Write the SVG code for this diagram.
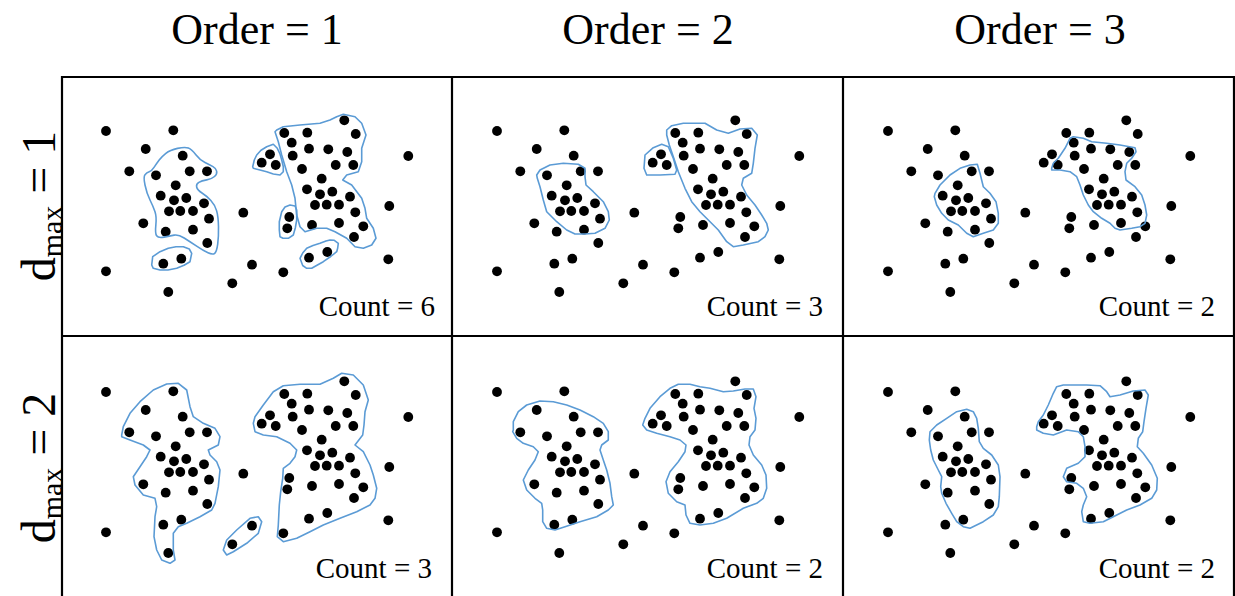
<svg xmlns="http://www.w3.org/2000/svg" xmlns:xlink="http://www.w3.org/1999/xlink" width="1235" height="596" viewBox="0 0 1235 596">
<style>
.c{fill:none;stroke:#5B9BD5;stroke-width:1.6;stroke-linejoin:round}
.g{stroke:#000;stroke-width:2.2;fill:none}
.h{font-family:"Liberation Serif",serif;font-size:44px;fill:#000}
.r{font-family:"Liberation Serif",serif;font-size:48px;fill:#000}
.n{font-family:"Liberation Serif",serif;font-size:29px;fill:#000}
#dots circle{r:4.9px}
</style>
<defs>
<g id="dots" fill="#000">
<circle cx="106" cy="131" r="4.9"/><circle cx="173.3" cy="130.3" r="4.9"/><circle cx="145.7" cy="149" r="4.9"/><circle cx="182.7" cy="155.7" r="4.9"/><circle cx="129.3" cy="171.3" r="4.9"/><circle cx="156" cy="175.3" r="4.9"/><circle cx="189.7" cy="171.3" r="4.9"/><circle cx="207" cy="171.3" r="4.9"/><circle cx="175.7" cy="185.3" r="4.9"/><circle cx="160.7" cy="195.7" r="4.9"/><circle cx="174" cy="200.3" r="4.9"/><circle cx="186.3" cy="198" r="4.9"/><circle cx="204" cy="203.3" r="4.9"/><circle cx="169" cy="211.3" r="4.9"/><circle cx="180.3" cy="211" r="4.9"/><circle cx="193" cy="211" r="4.9"/><circle cx="209" cy="218.7" r="4.9"/><circle cx="143.3" cy="223.3" r="4.9"/><circle cx="165.7" cy="231.7" r="4.9"/><circle cx="193" cy="229.7" r="4.9"/><circle cx="207.3" cy="243" r="4.9"/><circle cx="243.3" cy="212.7" r="4.9"/><circle cx="163.3" cy="263.7" r="4.9"/><circle cx="181.3" cy="258.7" r="4.9"/><circle cx="106" cy="271.3" r="4.9"/><circle cx="252" cy="264.7" r="4.9"/><circle cx="232.3" cy="283.3" r="4.9"/><circle cx="168.3" cy="292" r="4.9"/>
<circle cx="344.3" cy="120.3" r="4.9"/><circle cx="284.3" cy="133" r="4.9"/><circle cx="307.3" cy="132.7" r="4.9"/><circle cx="355.7" cy="134" r="4.9"/><circle cx="291.7" cy="142.7" r="4.9"/><circle cx="309" cy="148.7" r="4.9"/><circle cx="328.3" cy="149.3" r="4.9"/><circle cx="347.3" cy="152" r="4.9"/><circle cx="292.7" cy="155.7" r="4.9"/><circle cx="270" cy="154.3" r="4.9"/><circle cx="261.7" cy="162.7" r="4.9"/><circle cx="275.7" cy="165" r="4.9"/><circle cx="335.7" cy="165" r="4.9"/><circle cx="353.3" cy="165" r="4.9"/><circle cx="302" cy="169" r="4.9"/><circle cx="408.3" cy="156" r="4.9"/><circle cx="321.7" cy="178.7" r="4.9"/><circle cx="307" cy="189.3" r="4.9"/><circle cx="320" cy="194.3" r="4.9"/><circle cx="332.3" cy="191.7" r="4.9"/><circle cx="350" cy="196.7" r="4.9"/><circle cx="315" cy="205" r="4.9"/><circle cx="326.7" cy="204.7" r="4.9"/><circle cx="339" cy="204.7" r="4.9"/><circle cx="355.3" cy="212.3" r="4.9"/><circle cx="389.3" cy="206" r="4.9"/><circle cx="289.3" cy="217" r="4.9"/><circle cx="287.3" cy="228.3" r="4.9"/><circle cx="312" cy="225" r="4.9"/><circle cx="339" cy="223" r="4.9"/><circle cx="363.3" cy="226.3" r="4.9"/><circle cx="354" cy="237" r="4.9"/><circle cx="327.3" cy="252" r="4.9"/><circle cx="309" cy="257.7" r="4.9"/><circle cx="388.3" cy="259.3" r="4.9"/><circle cx="283.3" cy="272.3" r="4.9"/>
</g>
</defs>
<g id="headers">
<text class="h" x="257" y="44" text-anchor="middle">Order = 1</text>
<text class="h" x="648" y="44" text-anchor="middle">Order = 2</text>
<text class="h" x="1040" y="44" text-anchor="middle">Order = 3</text>
</g>
<g id="rowlabels">
<text class="r" transform="translate(55,206) rotate(-90)" text-anchor="middle">d<tspan font-size="30" dy="7">max</tspan><tspan dy="-7"> = 1</tspan></text>
<text class="r" transform="translate(55,468) rotate(-90)" text-anchor="middle">d<tspan font-size="30" dy="7">max</tspan><tspan dy="-7"> = 2</tspan></text>
</g>
<g id="grid" class="g">
<line x1="61" y1="77" x2="1235" y2="77"/>
<line x1="62" y1="76" x2="62" y2="596"/>
<line x1="61" y1="336" x2="1235" y2="336"/>
<line x1="452" y1="77" x2="452" y2="596"/>
<line x1="843" y1="77" x2="843" y2="596"/>
<line x1="1234" y1="77" x2="1234" y2="596"/>
</g>
<g id="panel-1-1">
<use xlink:href="#dots"/>
<path class="c" d="M165.85,153.35 Q170,150 177.5,148.35 Q185,146.7 188.35,148 Q191.7,149.3 195.85,154.65 Q200,160 205,162.5 Q210,165 213,166.65 Q216,168.3 216.65,171.15 Q217.3,174 214.5,176.5 Q211.7,179 206.7,179.85 Q201.7,180.7 198.85,182.35 Q196,184 196.65,187 Q197.3,190 202,193 Q206.7,196 210.85,200.5 Q215,205 216.65,210.85 Q218.3,216.7 218.5,226.7 Q218.7,236.7 217.7,244.2 Q216.7,251.7 214.7,253.35 Q212.7,255 208,252.85 Q203.3,250.7 196.65,246.2 Q190,241.7 184.15,238 Q178.3,234.3 174.15,235.15 Q170,236 164.15,237.15 Q158.3,238.3 156.65,235.8 Q155,233.3 155.85,225 Q156.7,216.7 155,211.7 Q153.3,206.7 150,200 Q146.7,193.3 145,185 Q143.3,176.7 145,174.7 Q146.7,172.7 149.2,171.85 Q151.7,171 154.2,167.15 Q156.7,163.3 159.2,160 Q161.7,156.7 165.85,153.35 Z"/>
<polygon class="c" points="151.7,265 152.7,256.7 160,251.7 168.3,248.3 176,246.7 183.3,246.7 189.3,249 191.7,253.3 190,261.7 184,265.3 176.7,268.3 168,270 160,270 153.3,268.3"/>
<polygon class="c" points="252.7,166.7 254.3,160 256.7,155 261,150.3 266.7,146.7 273.3,144.3 277.3,148.3 280,154 281.7,160 283.3,166.7 283.3,171.7 280,175 273.3,174 266.7,171.7 259,169.7 253.3,168.3"/>
<polygon class="c" points="281.7,211.7 285,207 290,205 295,206 296.7,210 296.7,220 295.3,228 293.3,235 288.3,238.3 283,238.3 280,236.7 279.3,230 279.3,221.7"/>
<polygon class="c" points="300,258.3 302.7,253 306.7,248.3 313,245.5 320,243.3 326,241 330,240 334.3,240.3 338.3,243.3 337.7,248 336.7,251.7 330.7,256.5 323.3,261.7 317,265.3 311.7,268.3 306.7,268.3 302.7,265.5"/>
<polygon class="c" points="276.7,130 283.3,126.7 300,125 320,123.3 330,120 336.7,116.7 343.3,114.3 355,116.7 361.7,123.3 366,135 361.7,148.3 361.7,161.7 358.3,171.7 346.7,175 342.7,180 351.7,185 361.7,198.3 365,208.3 366.7,218.3 373.3,228.3 376,238.3 371.7,245 363.3,248.3 355,246.7 346.7,238.3 335,231.7 326.7,228.3 316.7,228.3 305,231.7 300,226.7 296.7,215 295,198.3 291.7,185 286.7,171.7 281.7,155 278.3,141.7 275,131.7"/>
<text class="n" x="435" y="316" text-anchor="end">Count = 6</text>
</g>
<g id="panel-1-2">
<use xlink:href="#dots" x="391"/>
<g transform="translate(391,0)">
<polygon class="c" points="145.7,175 149,170 159,165 172.3,163.3 187.3,164.3 194,168.3 194,176.7 195,185 202.3,191.7 212.3,201.7 217.3,211.7 218.3,220 214,228.3 204,233.3 194,234 184,234 175.7,230 165.7,221.7 155.7,211.7 152.3,200 149,186.7 146.3,178.3"/>
<polygon class="c" points="253,168.3 254,155 262.3,147.7 270.7,144.3 277.3,146.7 282.3,158.3 285.7,170 284,174.3 269,175 255.7,175"/>
<polygon class="c" points="275.7,130 280.7,125.7 292.3,123.3 314,123.3 325.7,130 337.3,133.3 349,129 360.7,128.3 366.3,135 364,148.3 362.3,163.3 360.7,173.3 352.3,178.3 350.7,185 355.7,195 364,205 370.7,215 375.7,223.3 377.3,230 374,236.7 367.3,241.7 352.3,245 342.3,246.7 335.7,241.7 327.3,230 317.3,220 309,211.7 300.7,201.7 294,188.3 287.3,171.7 282.3,156.7 278.3,145 275.7,135"/>
</g>
<text class="n" x="823" y="316" text-anchor="end">Count = 3</text>
</g>
<g id="panel-1-3">
<use xlink:href="#dots" x="782"/>
<g transform="translate(782,0)">
<polygon class="c" points="153,193.3 158,185 168,175 178,168.3 188,165 195.3,164.3 198,173.3 201.3,186.7 208,193.3 214,201.7 216.3,213.3 216.3,223.3 211.3,230 201.3,233.3 191.3,236.7 184.7,233.3 176.3,225 166.3,220 159.7,213.3 154.7,205 152.3,196.7"/>
<polygon class="c" points="269.7,168.3 271.3,163.3 276.3,158.3 283,148.3 288,138.3 291.3,136.7 301.3,138.3 309.7,141.7 324.7,143.3 338,145 353,147.7 354,151.7 349.7,158.3 344.7,163.3 343,171.7 344,180 353,186.7 359.7,195 363,205 364.7,215 363,223.3 358,226.7 349.7,228.3 338,230 333,228.3 328,223.3 319.7,218.3 311.3,211.7 306.3,205 301.3,195 298,185 294.7,176.7 288,171.7 278,170 269.7,170"/>
</g>
<text class="n" x="1215" y="316" text-anchor="end">Count = 2</text>
</g>
<g id="panel-2-1">
<use xlink:href="#dots" y="261"/>
<g transform="translate(0,261)">
<polygon class="c" points="121.7,174 123.3,165.7 130,152.3 140,140.7 153.3,129 166.7,123 178.3,122.3 186.7,129 190,145.7 193.3,155.7 203.3,162.3 215,167.3 220,175.7 218.3,184 208.3,189 210,194 216.7,200.7 220,209 218.3,225.7 215,242.3 211.7,249 200,255.7 186.7,262.3 178.3,265.7 173.3,272.3 173.3,289 175,299 170,302.3 161.7,299 156.7,289 154,275.7 155,255.7 156.7,245.7 155,237.3 143.3,234 135,224 133.3,215.7 140,205.7 146.7,195.7 150,189 143.3,184 130,179 121.7,175.7"/>
<polygon class="c" points="223.3,289 226.7,279 236.7,269 250,257.3 258.3,255.7 261.7,260.7 258.3,272.3 246.7,282.3 233.3,290.7 226.7,294"/>
<polygon class="c" points="253.3,162.3 255,155.7 263.3,144 273.3,130.7 283.3,124.7 300,123.3 320,123.3 333.3,117.3 341.7,112.3 353.3,114 363.3,124 368.3,139 365,150.7 364,164 362.7,174 355,184 363.3,190.7 370,204 373.3,214 376.7,227.3 375,237.3 370,244 356.7,250.7 340,257.3 323.3,264 310,270.7 296.7,277.3 283.3,280.7 277.3,275.7 278.3,264 279.3,244 280.7,230.7 282.7,217.3 283.3,207.3 290,202.3 295,195.7 296.7,189 290,182.3 276.7,175.7 263.3,174 255,170.7"/>
</g>
<text class="n" x="432" y="578" text-anchor="end">Count = 3</text>
</g>
<g id="panel-2-2">
<use xlink:href="#dots" x="391" y="261"/>
<g transform="translate(391,261)">
<polygon class="c" points="122.3,169 122.3,160.7 127.3,150.7 135.7,144 149,140 162.3,140.7 175.7,144 189,149 202.3,155.7 212.3,162.3 217.3,170.7 217.3,179 210.7,184 209,189 212.3,199 215.7,209 219,222.3 220.7,235.7 222.3,244 217.3,249 205.7,255.7 189,260.7 174,265.7 164,269 155.7,267.3 151.7,260.7 151.7,249 150.7,242.3 144,237.3 135.7,229 132.3,219 137.3,209 144,199 147.3,190.7 142.3,185.7 132.3,182.3 125.7,177.3 121.7,170.7"/>
<polygon class="c" points="251.7,164 254,157.3 259,147.3 269,135.7 279,127.3 287.3,123.3 299,123.3 309,125.7 319,127.3 332.3,130.7 342.3,130 354,128 362.3,128 365,135.7 363,147.3 365,157.3 364,169 359,175.7 358,184 362.3,194 370.7,204 375,214 375.7,227.3 372.3,237.3 365.7,242.3 352.3,247.3 335.7,257.3 322.3,262.3 309,264 299,262.3 295,254 294,244 285.7,240.7 277.3,232.3 275,220.7 279,210.7 287.3,200.7 294,190.7 295,184 289,179 279,175.7 265.7,172.3 255.7,169"/>
</g>
<text class="n" x="823" y="578" text-anchor="end">Count = 2</text>
</g>
<g id="panel-2-3">
<use xlink:href="#dots" x="782" y="261"/>
<g transform="translate(782,261)">
<polygon class="c" points="148,170.7 154.7,164 164.7,157.3 174.7,150.7 184.7,148.3 191.3,150.7 194.7,157.3 196.3,167.3 197.3,180.7 201.3,187.3 209.7,194 216.3,204 218,215.7 217.3,235.7 216.3,245.7 211.3,254 201.3,260.7 188,267.3 181.3,265.7 174.7,260.7 169.7,252.3 164,242.3 159.7,232.3 158.7,225.7 159.7,215.7 156.3,209 151.3,199 148.7,189 147.3,179"/>
<polygon class="c" points="254.7,165.7 256.3,160.7 261.3,154 266.3,144 271.3,132.3 274.7,125.7 281.3,124 304.7,124 318,124.7 324.7,130.7 328,135.7 338,134 351.3,130 363,129 366.3,134 364,147.3 362,160.7 360.7,170.7 356.3,177.3 355.3,185.7 361.3,192.3 369.7,204 375.3,217.3 374.7,229 369.7,237.3 358,244 344.7,249 331.3,255.7 321.3,260.7 308,262.3 301.3,260.7 299.7,250.7 301.3,244 304.7,235.7 301.3,227.3 294.7,222.3 284.7,220.7 281.3,215.7 284.7,207.3 296.3,202.3 303,195.7 303,185.7 301.3,175.7 296.3,170.7 284.7,169 271.3,174 261.3,172.3 254.7,169"/>
</g>
<text class="n" x="1215" y="578" text-anchor="end">Count = 2</text>
</g>
</svg>
